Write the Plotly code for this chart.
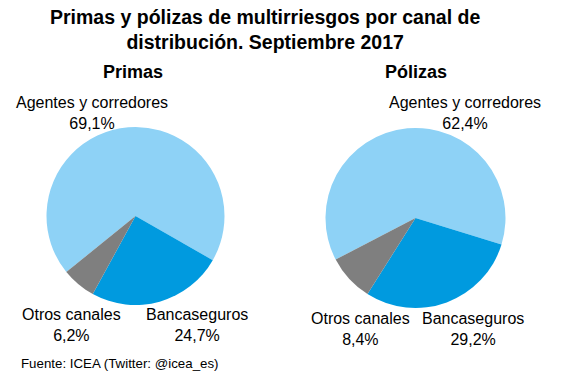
import plotly.graph_objects as go

title_text = "Primas y pólizas de multirriesgos por canal de<br>distribución. Septiembre 2017"
categories = ["Agentes y corredores", "Bancaseguros", "Otros canales"]
label_text = ["Agentes y corredores", "Bancaseguros", "Otros canales"]
primas = [69.1, 24.7, 6.2]
polizas = [62.4, 29.2, 8.4]
subtitles = ["Primas", "Pólizas"]
source = "Fuente: ICEA (Twitter: @icea_es)"
colors = ["#8ED2F6", "#009ADF", "#7F7F7F"]

W, H = 567, 378
FONT = "Liberation Sans, Arial, sans-serif"

def px(x):
    return x / W

def py(y):
    return 1 - y / H

fig = go.Figure()
fig.add_trace(go.Pie(
    labels=categories, values=primas, sort=False, direction="clockwise",
    rotation=231, textinfo="none", marker=dict(colors=colors, line=dict(width=0)),
    domain=dict(x=[px(46.5), px(224.5)], y=[py(305), py(127)]),
    showlegend=False,
))
fig.add_trace(go.Pie(
    labels=categories, values=polizas, sort=False, direction="clockwise",
    rotation=242.5, textinfo="none", marker=dict(colors=colors, line=dict(width=0)),
    domain=dict(x=[px(325.5), px(505.5)], y=[py(308), py(128)]),
    showlegend=False,
))

def fmt(v):
    return f"{v:.1f}".replace(".", ",") + "%"

annotations = []
pos1 = {0: (92, 113), 1: (197, 325), 2: (71, 325)}
pos2 = {0: (465, 113), 1: (473, 329), 2: (360, 329)}
for vals, pos in ((primas, pos1), (polizas, pos2)):
    for i, v in enumerate(vals):
        x, y = pos[i]
        annotations.append(dict(
            x=px(x), y=py(y), xref="paper", yref="paper", showarrow=False,
            text=f"{label_text[i]}<br>{fmt(v)}", align="center",
            xanchor="center", yanchor="middle",
            font=dict(family=FONT, size=16, color="#000000"),
        ))

for s, x in zip(subtitles, (133, 415.5)):
    annotations.append(dict(
        x=px(x), y=py(72), xref="paper", yref="paper", showarrow=False,
        text=f"<b>{s}</b>", xanchor="center", yanchor="middle",
        font=dict(family=FONT, size=18, color="#000000"),
    ))

annotations.append(dict(
    x=px(265), y=py(30), xref="paper", yref="paper", showarrow=False,
    text=f"<b>{title_text}</b>", xanchor="center", yanchor="middle", align="center",
    font=dict(family=FONT, size=19.5, color="#000000"),
))
annotations.append(dict(
    x=px(19), y=py(363), xref="paper", yref="paper", showarrow=False,
    text=source, xanchor="left", yanchor="middle",
    font=dict(family=FONT, size=13.3, color="#000000"),
))

fig.update_layout(
    width=W, height=H, margin=dict(l=0, r=0, t=0, b=0),
    paper_bgcolor="white", plot_bgcolor="white",
    annotations=annotations,
)
fig.write_html("out.html", config={"displayModeBar": False},
               post_script="document.body.style.margin='0px';")
